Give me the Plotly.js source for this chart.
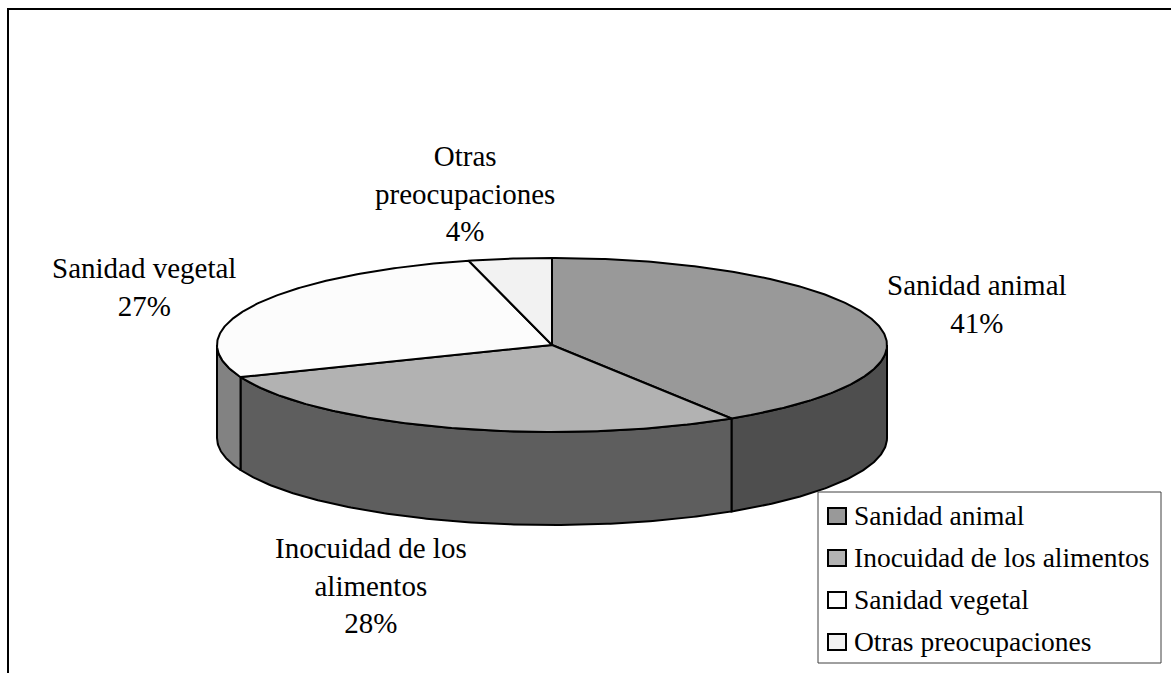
<!DOCTYPE html>
<html>
<head>
<meta charset="utf-8">
<script src="https://cdn.plot.ly/plotly-3.0.1.min.js"></script>
<style>html,body{margin:0;padding:0;background:#fff;}#chart{width:1171px;height:673px;}</style>
</head>
<body>
<div id="chart"></div>
<script>
// ---- data ----
const categories = ['Sanidad animal', 'Inocuidad de los alimentos', 'Sanidad vegetal', 'Otras preocupaciones'];
const values = [41, 28, 27, 4];
const labelNames = ['Sanidad animal', 'Inocuidad de los<br>alimentos', 'Sanidad vegetal', 'Otras<br>preocupaciones'];
const topColors = ['#999999', '#b2b2b2', '#fcfcfc', '#f2f2f2'];
const sideColors = ['#4e4e4e', '#5e5e5e', '#828282', '#828282'];

// ---- geometry (pixel-like data space) ----
const W = 1171, H = 673;
const cx = 552, cy = 345, rx = 335, ry = 87, depth = 93;
const FONT = 'Liberation Serif, Times New Roman, serif';

function pt(t, dy) { return [cx + rx * Math.sin(t), cy - ry * Math.cos(t) + (dy || 0)]; }
function arc(a0, a1, dy) {
  const n = Math.max(2, Math.ceil(Math.abs(a1 - a0) / 0.01));
  const xs = [], ys = [];
  for (let i = 0; i <= n; i++) {
    const p = pt(a0 + (a1 - a0) * i / n, dy);
    xs.push(p[0]); ys.push(p[1]);
  }
  return [xs, ys];
}

const total = values.reduce((a, b) => a + b, 0);
const bounds = [];
let cum = 0;
values.forEach(v => { const a0 = cum / total * 2 * Math.PI; cum += v; bounds.push([a0, cum / total * 2 * Math.PI]); });

const traces = [];
// sides (front half only)
bounds.forEach((b, i) => {
  const s0 = Math.max(b[0], Math.PI / 2), s1 = Math.min(b[1], 3 * Math.PI / 2);
  if (s1 <= s0) return;
  const top = arc(s0, s1, 0), bot = arc(s1, s0, depth);
  traces.push({
    type: 'scatter', mode: 'lines', fill: 'toself', fillcolor: sideColors[i],
    x: top[0].concat(bot[0], [top[0][0]]), y: top[1].concat(bot[1], [top[1][0]]),
    line: { color: '#000', width: 2 }, hoverinfo: 'skip', showlegend: false
  });
});
// tops
bounds.forEach((b, i) => {
  const a = arc(b[0], b[1], 0);
  traces.push({
    type: 'scatter', mode: 'lines', fill: 'toself', fillcolor: topColors[i],
    x: [cx].concat(a[0], [cx]), y: [cy].concat(a[1], [cy]),
    line: { color: '#000', width: 2 }, hoverinfo: 'skip', showlegend: false
  });
});

// data labels
const labelPos = [[977, 304], [371, 585], [143.5, 287], [465, 193]];
const annotations = categories.map((c, i) => ({
  x: labelPos[i][0], y: labelPos[i][1], xref: 'x', yref: 'y',
  text: labelNames[i] + '<br>' + values[i] + '%', showarrow: false,
  xanchor: 'center', yanchor: 'middle', align: 'center',
  font: { family: FONT, size: 29, color: '#000' }
}));

// frame + legend
const shapes = [
  { type: 'rect', xref: 'x', yref: 'y', x0: 8, y0: 9, x1: W + 20, y1: H + 20, line: { color: '#000', width: 2 }, fillcolor: 'rgba(0,0,0,0)', layer: 'below' },
  { type: 'rect', xref: 'x', yref: 'y', x0: 818, y0: 492, x1: 1161, y1: 663, line: { color: '#404040', width: 1 }, fillcolor: '#fff', layer: 'above' }
];
const rowY = [516, 558, 600, 642];
categories.forEach((c, i) => {
  shapes.push({ type: 'rect', xref: 'x', yref: 'y', x0: 828, x1: 846, y0: rowY[i] - 8, y1: rowY[i] + 8,
    line: { color: '#000', width: 2 }, fillcolor: topColors[i], layer: 'above' });
  annotations.push({ x: 852, y: rowY[i] - 1, xref: 'x', yref: 'y', text: c, showarrow: false,
    xanchor: 'left', yanchor: 'middle', font: { family: FONT, size: 27.5, color: '#000' } });
});

const layout = {
  width: W, height: H, margin: { l: 0, r: 0, t: 0, b: 0 },
  paper_bgcolor: '#fff', plot_bgcolor: '#fff', showlegend: false,
  xaxis: { range: [0, W], visible: false, fixedrange: true },
  yaxis: { range: [H, 0], visible: false, fixedrange: true },
  shapes: shapes, annotations: annotations
};
Plotly.newPlot('chart', traces, layout, { staticPlot: true, displayModeBar: false });
</script>
</body>
</html>
